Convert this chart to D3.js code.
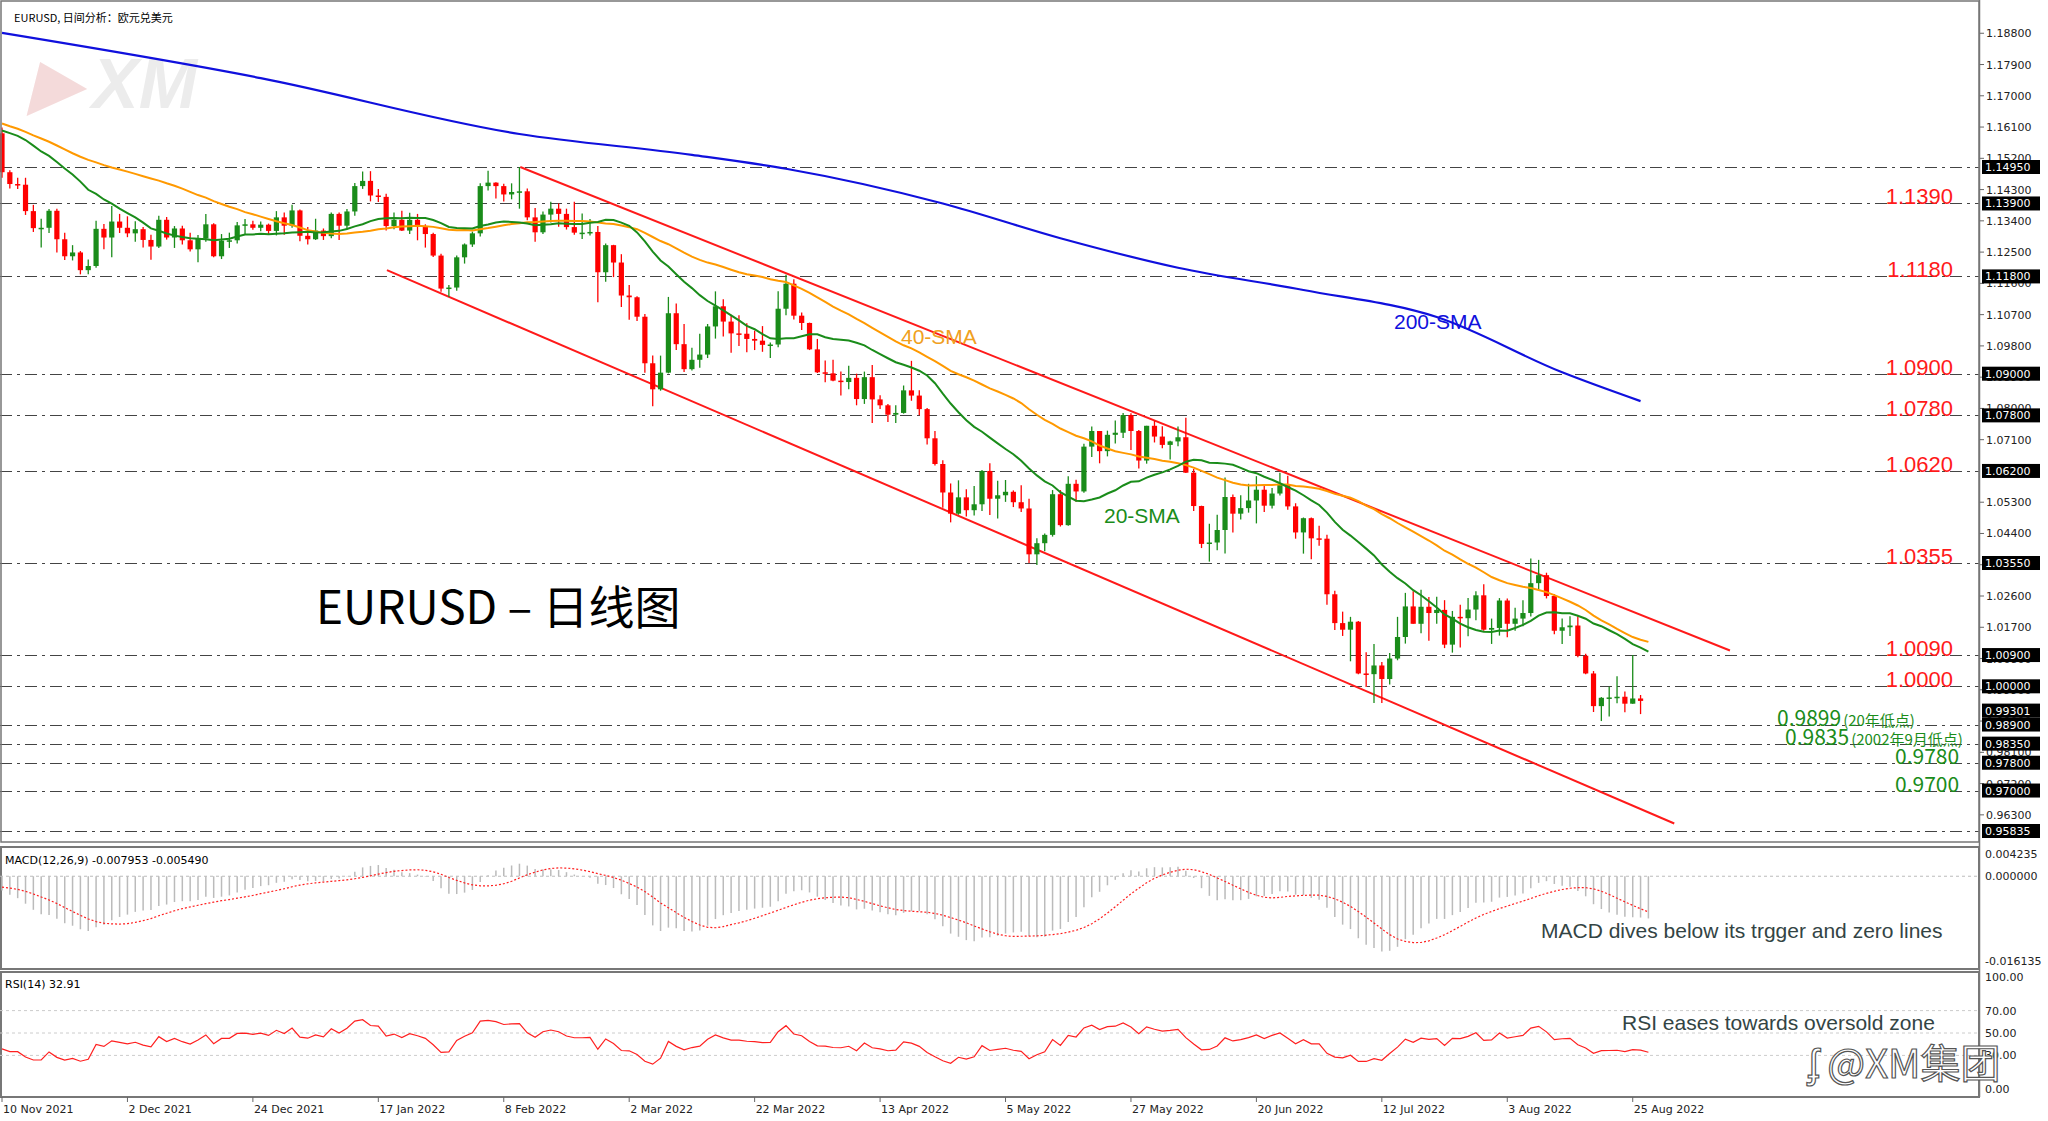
<!DOCTYPE html>
<html><head><meta charset="utf-8">
<script src="https://cdn.jsdelivr.net/npm/d3@7/dist/d3.min.js"></script>
<style>body{margin:0;background:#fff}svg{display:block}</style>
</head><body>
<svg id="c" width="2048" height="1121"></svg>
<script>
const opens=[1.1592,1.1480,1.1446,1.1444,1.1368,1.1319,1.1320,1.1369,1.1287,1.1238,1.1249,1.1198,1.1210,1.1317,1.1292,
1.1338,1.1320,1.1304,1.1316,1.1285,1.1266,1.1343,1.1292,1.1318,1.1284,1.1258,1.1289,1.1330,1.1238,1.1283,1.1284,1.1327,1.1330,1.1320,1.1329,1.1311,1.1350,1.1326,
1.1370,1.1297,1.1287,1.1312,1.1296,1.1360,1.1326,1.1367,1.1440,1.1455,1.1413,1.1409,1.1325,1.1343,1.1312,1.1343,1.1325,1.1302,1.1240,1.1145,1.1148,
1.1235,1.1272,1.1304,1.1440,1.1450,1.1440,1.1416,1.1423,1.1425,1.1350,1.1307,1.1358,1.1375,1.1360,1.1322,1.1306,1.1306,1.1308,1.1192,1.1270,
1.1220,1.1125,1.1120,1.1064,1.0930,1.0855,1.0903,1.1074,1.0985,1.0913,1.0940,1.0955,1.1036,1.1094,1.1050,1.1016,1.1015,1.1000,1.0995,1.0983,1.0984,1.1087,1.1159,
1.1067,1.1046,1.0970,1.0904,1.0901,1.0880,1.0876,1.0888,1.0827,1.0890,1.0826,1.0809,1.0782,1.0787,1.0852,1.0837,1.0798,1.0714,1.0640,1.0558,1.0497,
1.0544,1.0507,1.0524,1.0620,1.0540,1.0550,1.0560,1.0530,1.0512,1.0380,1.0412,1.0436,1.0553,1.0464,1.0583,1.0561,1.0690,1.0735,1.0677,1.0724,1.0730,1.0781,
1.0735,1.0650,1.0750,1.0719,1.0695,1.0705,1.0717,1.0615,1.0519,1.0410,1.0414,1.0450,1.0545,1.0497,1.0513,1.0535,1.0566,1.0520,1.0555,1.0582,1.0518,1.0443,
1.0484,1.0426,1.0425,1.0265,1.0182,1.0163,1.0186,1.0037,1.0035,1.0060,1.0021,1.0080,1.0142,1.0230,1.0180,1.0229,1.0211,1.0220,1.0120,1.0200,1.0196,
1.0221,1.0262,1.0163,1.0168,1.0247,1.0180,1.0195,1.0211,1.0297,1.0320,1.0260,1.0160,1.0170,1.0175,1.0088,1.0037,0.9943,0.9967,0.9968,0.9970,0.9950,0.9965];
const highs=[1.1609,1.1486,1.1464,1.1464,1.1386,1.1346,1.1374,1.1375,1.1306,1.1270,1.1253,1.1229,1.1340,1.1331,1.1383,
1.1360,1.1353,1.1339,1.1322,1.1300,1.1355,1.1351,1.1325,1.1326,1.1306,1.1299,1.1360,1.1333,1.1302,1.1306,1.1337,1.1345,1.1340,1.1338,1.1332,1.1368,1.1364,1.1386,
1.1373,1.1322,1.1346,1.1318,1.1364,1.1364,1.1374,1.1449,1.1482,1.1483,1.1432,1.1418,1.1364,1.1369,1.1363,1.1360,1.1330,1.1306,1.1245,1.1155,1.1240,
1.1275,1.1309,1.1448,1.1484,1.1451,1.1447,1.1448,1.1495,1.1433,1.1377,1.1367,1.1395,1.1390,1.1375,1.1395,1.1361,1.1345,1.1325,1.1275,1.1271,
1.1244,1.1155,1.1123,1.1072,1.0952,1.0952,1.1121,1.1102,1.1043,1.0975,1.1015,1.1043,1.1137,1.1114,1.1070,1.1068,1.1045,1.1024,1.1037,1.0990,1.1137,1.1185,1.1172,
1.1076,1.1047,1.1000,1.0938,1.0940,1.0906,1.0923,1.0900,1.0906,1.0925,1.0838,1.0813,1.0809,1.0866,1.0937,1.0852,1.0801,1.0735,1.0651,1.0584,1.0593,
1.0567,1.0577,1.0623,1.0642,1.0592,1.0594,1.0564,1.0579,1.0540,1.0426,1.0440,1.0565,1.0565,1.0605,1.0595,1.0698,1.0748,1.0735,1.0736,1.0765,1.0787,1.0786,
1.0738,1.0750,1.0764,1.0749,1.0707,1.0748,1.0773,1.0626,1.0520,1.0468,1.0494,1.0601,1.0552,1.0550,1.0583,1.0605,1.0577,1.0571,1.0615,1.0606,1.0527,1.0486,
1.0486,1.0462,1.0436,1.0275,1.0215,1.0200,1.0188,1.0098,1.0122,1.0070,1.0096,1.0200,1.0269,1.0274,1.0278,1.0257,1.0258,1.0248,1.0217,1.0235,1.0254,
1.0274,1.0294,1.0195,1.0254,1.0253,1.0226,1.0248,1.0368,1.0364,1.0327,1.0266,1.0195,1.0202,1.0202,1.0094,1.0044,0.9969,0.9999,1.0029,0.9985,1.0090,0.9975];
const lows=[1.1464,1.1433,1.1432,1.1357,1.1308,1.1263,1.1305,1.1249,1.1227,1.1226,1.1186,1.1186,1.1205,1.1258,1.1235,
1.1305,1.1293,1.1280,1.1263,1.1228,1.1262,1.1286,1.1262,1.1272,1.1252,1.1221,1.1280,1.1235,1.1230,1.1262,1.1275,1.1300,1.1314,1.1310,1.1300,1.1298,1.1300,1.1320,
1.1281,1.1272,1.1285,1.1285,1.1290,1.1285,1.1315,1.1355,1.1432,1.1396,1.1394,1.1312,1.1316,1.1311,1.1302,1.1284,1.1263,1.1236,1.1136,1.1121,1.1139,
1.1217,1.1265,1.1295,1.1427,1.1404,1.1396,1.1402,1.1375,1.1342,1.1280,1.1302,1.1335,1.1323,1.1315,1.1300,1.1288,1.1298,1.1106,1.1165,1.1178,
1.1092,1.1055,1.1052,1.0903,1.0806,1.0851,1.0901,1.0968,1.0905,1.0909,1.0917,1.0945,1.1001,1.1007,1.0960,1.0980,1.0962,1.0968,1.0963,1.0945,1.0976,1.1068,1.1056,
1.1026,1.0968,1.0902,1.0875,1.0878,1.0837,1.0855,1.0809,1.0813,1.0758,1.0798,1.0761,1.0758,1.0785,1.0822,1.0780,1.0696,1.0636,1.0514,1.0472,1.0494,
1.0489,1.0492,1.0505,1.0493,1.0483,1.0531,1.0516,1.0502,1.0355,1.0349,1.0389,1.0431,1.0460,1.0462,1.0531,1.0557,1.0660,1.0642,1.0662,1.0699,1.0715,1.0680,
1.0627,1.0641,1.0702,1.0685,1.0653,1.0691,1.0614,1.0505,1.0398,1.0359,1.0392,1.0382,1.0443,1.0480,1.0500,1.0469,1.0502,1.0512,1.0549,1.0508,1.0425,1.0382,
1.0366,1.0405,1.0235,1.0162,1.0145,1.0072,1.0035,0.9998,0.9952,0.9952,1.0005,1.0075,1.0123,1.0180,1.0153,1.0131,1.0180,1.0110,1.0097,1.0112,1.0144,
1.0190,1.0160,1.0122,1.0146,1.0141,1.0160,1.0173,1.0201,1.0279,1.0253,1.0150,1.0122,1.0145,1.0084,1.0035,0.9926,0.9900,0.9913,0.9951,0.9925,0.9950,0.9920];
const closes=[1.1480,1.1446,1.1444,1.1368,1.1319,1.1320,1.1369,1.1287,1.1238,1.1249,1.1198,1.1210,1.1317,1.1292,1.1338,
1.1320,1.1304,1.1316,1.1285,1.1266,1.1343,1.1292,1.1318,1.1284,1.1258,1.1289,1.1330,1.1238,1.1283,1.1284,1.1327,1.1330,1.1320,1.1329,1.1311,1.1350,1.1326,1.1370,
1.1297,1.1287,1.1312,1.1296,1.1360,1.1326,1.1367,1.1440,1.1455,1.1413,1.1409,1.1325,1.1343,1.1312,1.1343,1.1325,1.1302,1.1240,1.1145,1.1148,1.1235,
1.1272,1.1304,1.1440,1.1450,1.1440,1.1416,1.1423,1.1425,1.1350,1.1307,1.1358,1.1375,1.1360,1.1322,1.1306,1.1306,1.1308,1.1192,1.1270,1.1220,
1.1125,1.1120,1.1064,1.0930,1.0855,1.0903,1.1074,1.0985,1.0913,1.0940,1.0955,1.1036,1.1094,1.1050,1.1016,1.1015,1.1000,1.0995,1.0983,1.0984,1.1087,1.1159,1.1067,
1.1046,1.0970,1.0904,1.0901,1.0880,1.0876,1.0888,1.0827,1.0890,1.0826,1.0809,1.0782,1.0787,1.0852,1.0837,1.0798,1.0714,1.0640,1.0558,1.0497,1.0544,
1.0507,1.0524,1.0620,1.0540,1.0550,1.0560,1.0530,1.0512,1.0380,1.0412,1.0436,1.0553,1.0464,1.0583,1.0561,1.0690,1.0735,1.0677,1.0724,1.0730,1.0781,1.0735,
1.0650,1.0750,1.0719,1.0695,1.0705,1.0717,1.0615,1.0519,1.0410,1.0414,1.0450,1.0545,1.0497,1.0513,1.0535,1.0566,1.0520,1.0555,1.0582,1.0518,1.0443,1.0484,
1.0426,1.0425,1.0265,1.0182,1.0163,1.0186,1.0037,1.0035,1.0060,1.0021,1.0080,1.0142,1.0230,1.0180,1.0229,1.0211,1.0220,1.0120,1.0200,1.0196,1.0221,
1.0262,1.0163,1.0168,1.0247,1.0180,1.0195,1.0211,1.0297,1.0320,1.0260,1.0160,1.0170,1.0175,1.0088,1.0037,0.9943,0.9967,0.9968,0.9970,0.9950,0.9965,0.9958,0.9930];
// closes before the first visible bar (warm-up for indicators)
const priorCloses=[1.1818,1.1763,1.1726,1.1726,1.1723,1.1689,1.1739,1.1719,1.1696,1.1683,1.1598,1.1578,1.1596,1.1619,1.1598,1.1556,1.1552,1.1572,1.1553,1.1528,
1.1594,1.1597,1.1600,1.1610,1.1643,1.1652,1.1623,1.1645,1.1608,1.1598,1.1605,1.1681,1.1557,1.1608,1.1578,1.1612,1.1555,1.1567,1.1588,1.1594];
const sma200Idx=[0,33,66,88,100,120,135,150,166,183,199,209];
const sma200Vals=[1.1881,1.1751,1.1590,1.1530,1.1490,1.1390,1.1290,1.1205,1.1141,1.1063,1.0904,1.0821];
const dateLabels=["10 Nov 2021","2 Dec 2021","24 Dec 2021","17 Jan 2022","8 Feb 2022","2 Mar 2022","22 Mar 2022","13 Apr 2022","5 May 2022","27 May 2022","20 Jun 2022","12 Jul 2022","3 Aug 2022","25 Aug 2022"];
const priceTicks=[1.188,1.179,1.170,1.161,1.152,1.143,1.134,1.125,1.116,1.107,1.098,1.089,1.080,1.071,1.053,1.044,1.035,1.026,1.017,1.008,0.999,0.990,0.981,0.972,0.963];
const levelBoxes=[1.1495,1.139,1.118,1.09,1.078,1.062,1.0355,1.009,1.0,0.99301,0.989,0.9835,0.978,0.97,0.95835];
const gridLevels=[1.1495,1.139,1.118,1.09,1.078,1.062,1.0355,1.009,1.0,0.989,0.9835,0.978,0.97,0.95835];
const redLabels=[["1.1390",1.139],["1.1180",1.118],["1.0900",1.09],["1.0780",1.078],["1.0620",1.062],["1.0355",1.0355],["1.0090",1.009],["1.0000",1.0]];
const greenLabels=[["0.9899","(20年低点)",0.989],["0.9835","(2002年9月低点)",0.9835],["0.9780","",0.978],["0.9700","",0.97]];
const upperChannel=[[66.1,1.1495],[220.4,1.0103]];
const lowerChannel=[[49.1,1.1198],[213.3,0.9605]];
const macdTicks=[0.004235,0,-0.016135];
const rsiTicks=[100,70,50,30,0];

const svg=d3.select("#c");
const R=1979, N=closes.length;
const x=d3.scaleLinear().domain([0,1]).range([2,2+7.84]);
const y=d3.scaleLinear().domain([1.1495,0.95835]).range([167,831]);
const yM=d3.scaleLinear().domain([0.004235,-0.016135]).range([854,961]);
const yR=d3.scaleLinear().domain([100,0]).range([977,1089]);
const F="DejaVu Sans, Tahoma, sans-serif";

// watermark
svg.append("text").attr("x",30).attr("y",106).attr("font-family","Liberation Sans, Arial").attr("font-weight","bold").attr("font-style","italic")
 .attr("font-size",66).attr("fill","#f4dada").text("▶");
svg.append("text").attr("x",92).attr("y",108).attr("font-family","Liberation Sans, Arial").attr("font-weight","bold").attr("font-style","italic")
 .attr("font-size",70).attr("fill","#ececec").text("XM");

const clip=svg.append("clipPath").attr("id","cp").append("rect").attr("x",0).attr("y",0).attr("width",R).attr("height",842);
const g=svg.append("g").attr("clip-path","url(#cp)");

g.selectAll(".lv").data(gridLevels).join("line").attr("x1",0).attr("x2",R).attr("y1",d=>Math.round(y(d))+0.5).attr("y2",d=>Math.round(y(d))+0.5)
 .attr("stroke","#444").attr("stroke-width",1.2).attr("stroke-dasharray","12,5,3,5");

const line=d3.line().x(d=>x(d[0])).y(d=>y(d[1]));
[upperChannel,lowerChannel].forEach(c=>g.append("path").attr("d",line(c)).attr("stroke","#ff1a1a").attr("stroke-width",2).attr("fill","none"));

const up="#1a8c1a", dn="#ff0000";
const idx=d3.range(N);
g.selectAll(".wk").data(idx).join("line").attr("x1",i=>x(i)).attr("x2",i=>x(i)).attr("y1",i=>y(highs[i])).attr("y2",i=>y(lows[i]))
 .attr("stroke",i=>closes[i]>=opens[i]?up:dn).attr("stroke-width",1.3);
g.selectAll(".bd").data(idx).join("rect").attr("x",i=>x(i)-2.6).attr("width",5.2)
 .attr("y",i=>y(Math.max(opens[i],closes[i]))).attr("height",i=>Math.max(1.5,Math.abs(y(opens[i])-y(closes[i]))))
 .attr("fill",i=>closes[i]>=opens[i]?up:dn);

const all=priorCloses.concat(closes), P=priorCloses.length;
const sma=n=>idx.map(i=>d3.mean(all.slice(P+i-n+1,P+i+1)));
const sl=d3.line().x((d,i)=>x(i)).y(d=>y(d));
g.append("path").attr("d",sl(sma(40))).attr("stroke","#ff9900").attr("stroke-width",2).attr("fill","none");
g.append("path").attr("d",sl(sma(20))).attr("stroke","#1a8c1a").attr("stroke-width",2).attr("fill","none");
g.append("path").attr("d",d3.line().curve(d3.curveMonotoneX).x((d,i)=>x(sma200Idx[i])).y(d=>y(d))(sma200Vals))
 .attr("stroke","#1010dd").attr("stroke-width",2.2).attr("fill","none");

const LF="Liberation Sans, Arial, sans-serif";
svg.append("text").attr("x",901).attr("y",344).attr("font-family",LF).attr("font-size",21).attr("fill","#f0a020").text("40-SMA");
svg.append("text").attr("x",1104).attr("y",523).attr("font-family",LF).attr("font-size",21).attr("fill","#1a8c1a").text("20-SMA");
svg.append("text").attr("x",1394).attr("y",329).attr("font-family",LF).attr("font-size",21).attr("fill","#1010dd").text("200-SMA");
svg.append("text").attr("x",316).attr("y",624).attr("font-family","Noto Sans CJK SC, "+LF).attr("font-size",46).attr("fill","#000").text("EURUSD – 日线图");
svg.append("text").attr("x",14).attr("y",22).attr("font-family","Noto Sans CJK SC, "+F).attr("font-size",11).attr("fill","#000").text("EURUSD, 日间分析：欧元兑美元");

svg.selectAll(".rl").data(redLabels).join("text").attr("x",1953).attr("y",d=>y(d[1])+1).attr("text-anchor","end")
 .attr("font-family",LF).attr("font-size",22).attr("fill","#ff1a1a").text(d=>d[0]);
greenLabels.forEach((d,k)=>{
  const xs=[1777,1785,1895,1895][k];
  const t=svg.append("text").attr("x",xs).attr("y",y(d[2])+1).attr("font-family","Noto Sans CJK SC, "+LF).attr("fill","#1a8c1a");
  t.append("tspan").attr("font-size",21).text(d[0]);
  if(d[1]) t.append("tspan").attr("font-size",15).attr("dx",2).text(d[1]);
});

svg.append("line").attr("x1",R+0.5).attr("x2",R+0.5).attr("y1",0).attr("y2",1097).attr("stroke","#777").attr("stroke-width",1.5);
const pa=svg.append("g");
priceTicks.forEach(p=>{
  pa.append("line").attr("x1",R).attr("x2",R+5).attr("y1",y(p)).attr("y2",y(p)).attr("stroke","#666");
  pa.append("text").attr("x",R+7).attr("y",y(p)+4).attr("font-family",F).attr("font-size",11).attr("fill","#222").text(p.toFixed(5));
});
levelBoxes.forEach(p=>{
  pa.append("rect").attr("x",R+3).attr("y",y(p)-7).attr("width",58).attr("height",14).attr("fill","#000");
  pa.append("text").attr("x",R+6).attr("y",y(p)+4).attr("font-family",F).attr("font-size",11).attr("fill","#fff").text(p.toFixed(5));
});

svg.append("rect").attr("x",1).attr("y",1).attr("width",R-1).attr("height",841).attr("fill","none").attr("stroke","#777").attr("stroke-width",1.5);
svg.append("rect").attr("x",1).attr("y",847).attr("width",R-1).attr("height",122).attr("fill","none").attr("stroke","#777").attr("stroke-width",2);
svg.append("rect").attr("x",1).attr("y",972).attr("width",R-1).attr("height",125).attr("fill","none").attr("stroke","#777").attr("stroke-width",2);

const ema=(arr,n)=>{const k=2/(n+1);let e=arr[0];return arr.map((v,i)=>i===0?e:(e=v*k+e*(1-k)));};
const e12=ema(all,12), e26=ema(all,26);
const macdAll=all.map((v,i)=>e12[i]-e26[i]);
const sigAll=d3.range(all.length).map(i=>i<8?macdAll[i]:d3.mean(macdAll.slice(i-8,i+1)));
const macd=macdAll.slice(P), sig=sigAll.slice(P);
svg.append("line").attr("x1",0).attr("x2",R).attr("y1",yM(0)).attr("y2",yM(0)).attr("stroke","#bbb").attr("stroke-dasharray","3,3");
svg.selectAll(".mh").data(idx).join("line").attr("x1",i=>x(i)).attr("x2",i=>x(i)).attr("y1",yM(0)).attr("y2",i=>yM(macd[i]))
 .attr("stroke","#bbb").attr("stroke-width",1.5);
svg.append("path").attr("d",d3.line().x((d,i)=>x(i)).y(d=>yM(d))(sig)).attr("stroke","#ff2020").attr("stroke-width",1.2).attr("stroke-dasharray","2,2").attr("fill","none");
macdTicks.forEach(v=>svg.append("text").attr("x",R+6).attr("y",yM(v)+4).attr("font-family",F).attr("font-size",11).attr("fill","#222").text(v.toFixed(6)));
svg.append("text").attr("x",5).attr("y",864).attr("font-family",F).attr("font-size",11).attr("fill","#000").text("MACD(12,26,9) -0.007953 -0.005490");
svg.append("text").attr("x",1541).attr("y",938).attr("font-family",LF).attr("font-size",21).attr("fill","#334444").text("MACD dives below its trgger and zero lines");

let ag=0,al=0;const rsiAll=[50];
for(let i=1;i<all.length;i++){const d=all[i]-all[i-1];const gn=Math.max(d,0),ls=Math.max(-d,0);
 if(i<=14){ag+=gn/14;al+=ls/14;}else{ag=(ag*13+gn)/14;al=(al*13+ls)/14;}
 rsiAll.push(al===0?100:100-100/(1+ag/al));}
const rsi=rsiAll.slice(P);
[70,50,30].forEach(v=>svg.append("line").attr("x1",0).attr("x2",R).attr("y1",yR(v)).attr("y2",yR(v)).attr("stroke","#ccc").attr("stroke-dasharray","3,3"));
svg.append("path").attr("d",d3.line().x((d,i)=>x(i)).y(d=>yR(d))(rsi)).attr("stroke","#ff2020").attr("stroke-width",1.2).attr("fill","none");
rsiTicks.forEach(v=>svg.append("text").attr("x",R+6).attr("y",yR(v)+4).attr("font-family",F).attr("font-size",11).attr("fill","#222").text(v.toFixed(2)));
svg.append("text").attr("x",5).attr("y",988).attr("font-family",F).attr("font-size",11).attr("fill","#000").text("RSI(14) 32.91");
svg.append("text").attr("x",1622).attr("y",1030).attr("font-family",LF).attr("font-size",21).attr("fill","#334444").text("RSI eases towards oversold zone");
svg.append("text").attr("x",1808).attr("y",1078).attr("font-family","Noto Sans CJK SC, "+LF).attr("font-size",40).attr("fill","#fff")
 .attr("stroke","#555").attr("stroke-width",1.2).text("ʄ @XM集团");

dateLabels.forEach((t,k)=>{const xi=x(k*16);
  svg.append("line").attr("x1",xi).attr("x2",xi).attr("y1",1097).attr("y2",1102).attr("stroke","#666");
  svg.append("text").attr("x",xi+1).attr("y",1113).attr("font-family",F).attr("font-size",11).attr("fill","#222").text(t);});
</script></body></html>
